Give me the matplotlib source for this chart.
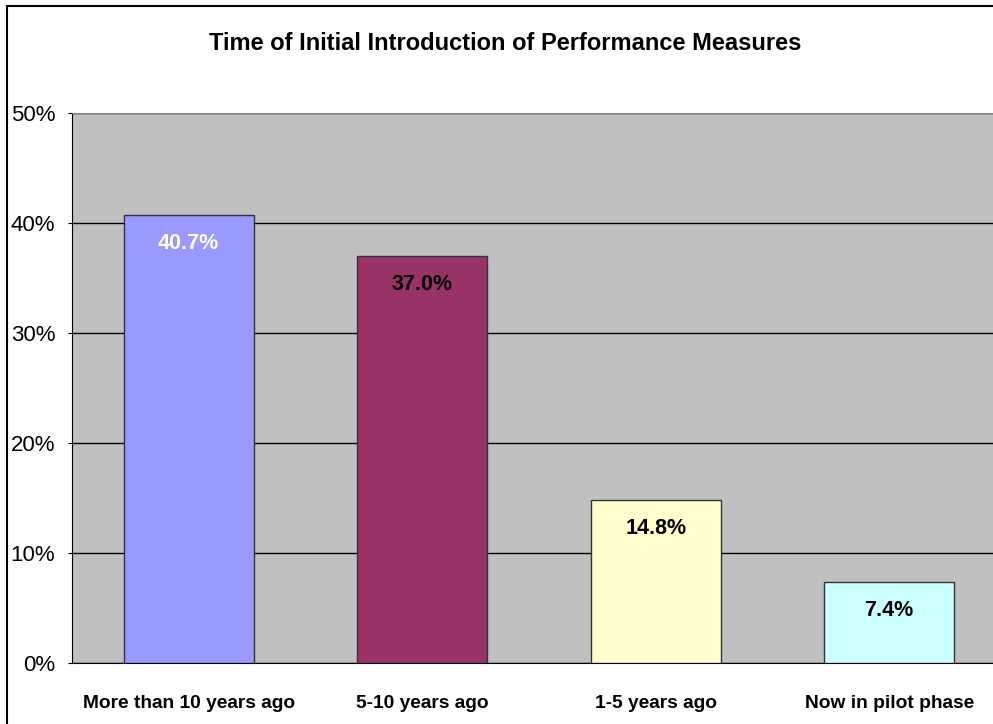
import matplotlib
matplotlib.use('Agg')
from matplotlib import pyplot as plt
from matplotlib.patches import Rectangle

plt.rcParams['font.family'] = ['Liberation Sans', 'DejaVu Sans']

categories = ['More than 10 years ago', '5-10 years ago', '1-5 years ago', 'Now in pilot phase']
values = [40.7, 37.0, 14.8, 7.4]
bar_colors = ['#9999FF', '#993366', '#FFFFCC', '#CCFFFF']
label_colors = ['white', 'black', 'black', 'black']

W, H = 993, 724
fig = plt.figure(figsize=(W / 100, H / 100), dpi=100)
fig.patch.set_facecolor('white')

# outer chart border (runs off the right and bottom edges)
fig.patches.append(Rectangle((7 / W, -0.1), 1.2, 1 - 6 / H + 0.1, transform=fig.transFigure,
                             fill=False, edgecolor='black', linewidth=1.5))

ax = fig.add_axes([72 / W, 1 - 663 / H, (1006 - 72) / W, (663 - 113) / H])
ax.set_facecolor('#C0C0C0')

x = range(len(categories))
bars = ax.bar(x, values, width=0.557, color=bar_colors, edgecolor='#333333', linewidth=1, zorder=3)

for b, v, c in zip(bars, values, label_colors):
    ax.text(b.get_x() + b.get_width() / 2, v - 2.6, f'{v:.1f}%', ha='center', va='center',
            fontsize=15.5, fontweight='bold', color=c, zorder=4)

ax.set_xlim(-0.5, len(categories) - 0.5)
ax.set_ylim(0, 50)
ax.set_yticks(range(0, 51, 10))
ax.set_yticklabels([f'{t}%' for t in range(0, 51, 10)], fontsize=16)
ax.yaxis.grid(True, color='black', linewidth=1, zorder=1)
ax.set_axisbelow(True)
ax.tick_params(axis='y', direction='out', length=3, pad=9, color='black')
ax.set_xticks(list(x))
ax.set_xticklabels(categories, fontsize=13.8, fontweight='bold')
ax.tick_params(axis='x', length=0, pad=23)

ax.spines['top'].set_color('#808080')
ax.spines['right'].set_visible(False)
ax.spines['left'].set_color('black')
ax.spines['bottom'].set_color('black')

fig.text(505 / W, 1 - 43 / H, 'Time of Initial Introduction of Performance Measures',
         ha='center', va='center', fontsize=17, fontweight='bold')

fig.savefig('out.png', dpi=100)
